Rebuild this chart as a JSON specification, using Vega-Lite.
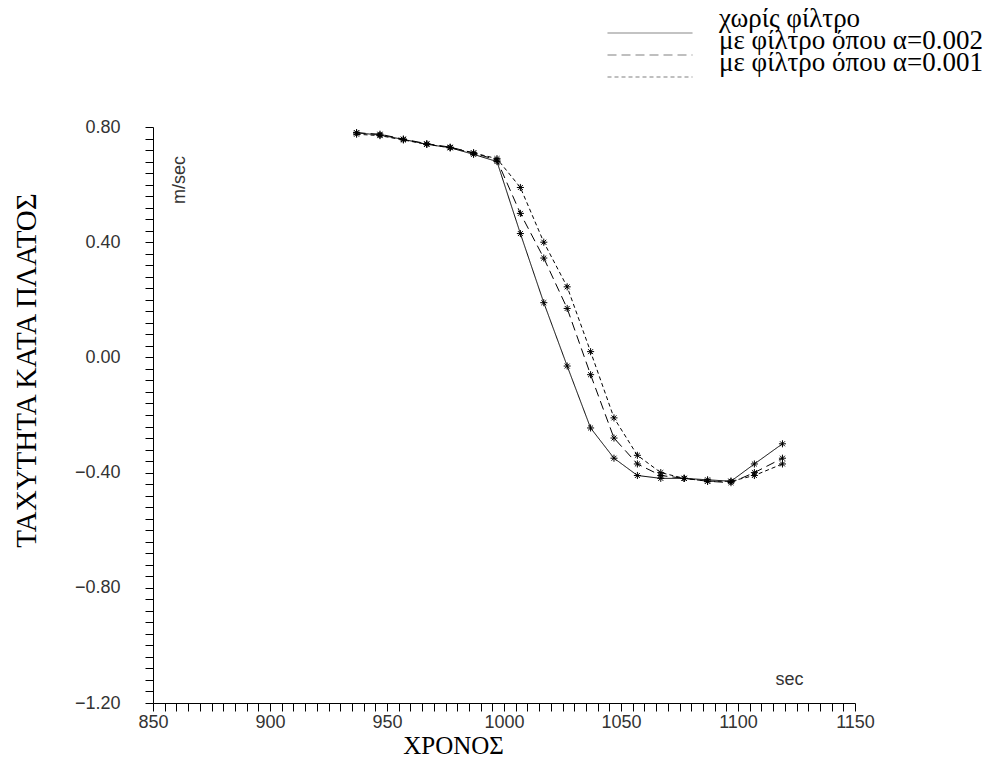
{
  "$schema": "https://vega.github.io/schema/vega-lite/v6.json",
  "width": 702,
  "height": 576,
  "autosize": {"type": "none"},
  "padding": {"left": 153, "top": 127, "right": 147, "bottom": 66},
  "background": "white",
  "config": {"view": {"stroke": null}},
  "datasets": {
    "curves": [
      {"t": 937, "v": 0.78, "s": "χωρίς φίλτρο"},
      {"t": 947, "v": 0.772, "s": "χωρίς φίλτρο"},
      {"t": 957, "v": 0.757, "s": "χωρίς φίλτρο"},
      {"t": 967, "v": 0.74, "s": "χωρίς φίλτρο"},
      {"t": 977, "v": 0.728, "s": "χωρίς φίλτρο"},
      {"t": 987, "v": 0.705, "s": "χωρίς φίλτρο"},
      {"t": 997, "v": 0.68, "s": "χωρίς φίλτρο"},
      {"t": 1007, "v": 0.43, "s": "χωρίς φίλτρο"},
      {"t": 1017, "v": 0.19, "s": "χωρίς φίλτρο"},
      {"t": 1027, "v": -0.03, "s": "χωρίς φίλτρο"},
      {"t": 1037, "v": -0.245, "s": "χωρίς φίλτρο"},
      {"t": 1047, "v": -0.35, "s": "χωρίς φίλτρο"},
      {"t": 1057, "v": -0.41, "s": "χωρίς φίλτρο"},
      {"t": 1067, "v": -0.42, "s": "χωρίς φίλτρο"},
      {"t": 1077, "v": -0.42, "s": "χωρίς φίλτρο"},
      {"t": 1087, "v": -0.425, "s": "χωρίς φίλτρο"},
      {"t": 1097, "v": -0.43, "s": "χωρίς φίλτρο"},
      {"t": 1107, "v": -0.37, "s": "χωρίς φίλτρο"},
      {"t": 1119, "v": -0.30, "s": "χωρίς φίλτρο"},
      {"t": 937, "v": 0.78, "s": "με φίλτρο όπου α=0.002"},
      {"t": 947, "v": 0.775, "s": "με φίλτρο όπου α=0.002"},
      {"t": 957, "v": 0.758, "s": "με φίλτρο όπου α=0.002"},
      {"t": 967, "v": 0.742, "s": "με φίλτρο όπου α=0.002"},
      {"t": 977, "v": 0.73, "s": "με φίλτρο όπου α=0.002"},
      {"t": 987, "v": 0.71, "s": "με φίλτρο όπου α=0.002"},
      {"t": 997, "v": 0.685, "s": "με φίλτρο όπου α=0.002"},
      {"t": 1007, "v": 0.50, "s": "με φίλτρο όπου α=0.002"},
      {"t": 1017, "v": 0.345, "s": "με φίλτρο όπου α=0.002"},
      {"t": 1027, "v": 0.17, "s": "με φίλτρο όπου α=0.002"},
      {"t": 1037, "v": -0.06, "s": "με φίλτρο όπου α=0.002"},
      {"t": 1047, "v": -0.28, "s": "με φίλτρο όπου α=0.002"},
      {"t": 1057, "v": -0.37, "s": "με φίλτρο όπου α=0.002"},
      {"t": 1067, "v": -0.41, "s": "με φίλτρο όπου α=0.002"},
      {"t": 1077, "v": -0.42, "s": "με φίλτρο όπου α=0.002"},
      {"t": 1087, "v": -0.43, "s": "με φίλτρο όπου α=0.002"},
      {"t": 1097, "v": -0.435, "s": "με φίλτρο όπου α=0.002"},
      {"t": 1107, "v": -0.40, "s": "με φίλτρο όπου α=0.002"},
      {"t": 1119, "v": -0.35, "s": "με φίλτρο όπου α=0.002"},
      {"t": 937, "v": 0.775, "s": "με φίλτρο όπου α=0.001"},
      {"t": 947, "v": 0.77, "s": "με φίλτρο όπου α=0.001"},
      {"t": 957, "v": 0.755, "s": "με φίλτρο όπου α=0.001"},
      {"t": 967, "v": 0.74, "s": "με φίλτρο όπου α=0.001"},
      {"t": 977, "v": 0.728, "s": "με φίλτρο όπου α=0.001"},
      {"t": 987, "v": 0.71, "s": "με φίλτρο όπου α=0.001"},
      {"t": 997, "v": 0.69, "s": "με φίλτρο όπου α=0.001"},
      {"t": 1007, "v": 0.59, "s": "με φίλτρο όπου α=0.001"},
      {"t": 1017, "v": 0.40, "s": "με φίλτρο όπου α=0.001"},
      {"t": 1027, "v": 0.245, "s": "με φίλτρο όπου α=0.001"},
      {"t": 1037, "v": 0.02, "s": "με φίλτρο όπου α=0.001"},
      {"t": 1047, "v": -0.21, "s": "με φίλτρο όπου α=0.001"},
      {"t": 1057, "v": -0.34, "s": "με φίλτρο όπου α=0.001"},
      {"t": 1067, "v": -0.40, "s": "με φίλτρο όπου α=0.001"},
      {"t": 1077, "v": -0.42, "s": "με φίλτρο όπου α=0.001"},
      {"t": 1087, "v": -0.43, "s": "με φίλτρο όπου α=0.001"},
      {"t": 1097, "v": -0.43, "s": "με φίλτρο όπου α=0.001"},
      {"t": 1107, "v": -0.41, "s": "με φίλτρο όπου α=0.001"},
      {"t": 1119, "v": -0.37, "s": "με φίλτρο όπου α=0.001"}
    ],
    "notes": [
      {"t": 861.5, "v": 0.616, "label": "m/sec", "angle": 270},
      {"t": 1122, "v": -1.12, "label": "sec", "angle": 0}
    ]
  },
  "encoding": {
    "x": {
      "field": "t", "type": "quantitative",
      "scale": {"domain": [850, 1150], "nice": false, "zero": false},
      "axis": {
        "values": [850,855,860,865,870,875,880,885,890,895,900,905,910,915,920,925,930,935,940,945,950,955,960,965,970,975,980,985,990,995,1000,1005,1010,1015,1020,1025,1030,1035,1040,1045,1050,1055,1060,1065,1070,1075,1080,1085,1090,1095,1100,1105,1110,1115,1120,1125,1130,1135,1140,1145,1150],
        "labelExpr": "datum.value % 50 == 0 ? datum.label : ''",
        "format": "d",
        "grid": false,
        "domainColor": "black",
        "tickColor": "black",
        "tickSize": 8,
        "labelFont": "Liberation Sans",
        "labelFontSize": 18,
        "labelColor": "#333",
        "labelPadding": 2,
        "labelOverlap": false,
        "labelFlush": false,
        "title": "ΧΡΟΝΟΣ",
        "titleFont": "Liberation Serif",
        "titleFontSize": 25,
        "titleFontWeight": "normal",
        "titleColor": "black",
        "titleX": 300,
        "titleY": 42,
        "titleAlign": "center",
        "titleBaseline": "middle"
      }
    },
    "y": {
      "field": "v", "type": "quantitative",
      "scale": {"domain": [-1.2, 0.8], "nice": false, "zero": false},
      "axis": {
        "values": [-1.2,-1.16,-1.12,-1.08,-1.04,-1.0,-0.96,-0.92,-0.88,-0.84,-0.8,-0.76,-0.72,-0.68,-0.64,-0.6,-0.56,-0.52,-0.48,-0.44,-0.4,-0.36,-0.32,-0.28,-0.24,-0.2,-0.16,-0.12,-0.08,-0.04,0,0.04,0.08,0.12,0.16,0.2,0.24,0.28,0.32,0.36,0.4,0.44,0.48,0.52,0.56,0.6,0.64,0.68,0.72,0.76,0.8],
        "labelExpr": "round(datum.value * 100) % 40 == 0 ? format(datum.value, '.2f') : ''",
        "grid": false,
        "domainColor": "black",
        "tickColor": "black",
        "tickSize": 8,
        "labelFont": "Liberation Sans",
        "labelFontSize": 18,
        "labelColor": "#333",
        "labelPadding": 25,
        "labelOverlap": false,
        "labelFlush": false,
        "title": "ΤΑΧΥΤΗΤΑ ΚΑΤΑ ΠΛΑΤΟΣ",
        "titleFont": "Liberation Serif",
        "titleFontSize": 29,
        "titleFontWeight": "normal",
        "titleColor": "black",
        "titleX": -127,
        "titleY": 243,
        "titleAngle": -90,
        "titleAlign": "center",
        "titleBaseline": "middle"
      }
    }
  },
  "layer": [
    {
      "data": {"name": "curves"},
      "mark": {"type": "line", "color": "black", "strokeWidth": 1},
      "encoding": {
        "detail": {"field": "s"},
        "strokeDash": {
          "field": "s", "type": "nominal",
          "scale": {
            "domain": ["χωρίς φίλτρο", "με φίλτρο όπου α=0.002", "με φίλτρο όπου α=0.001"],
            "range": [[1, 0], [9, 5], [4, 3]]
          },
          "legend": {
            "title": null,
            "orient": "none",
            "legendX": 454,
            "legendY": -94.5,
            "symbolType": "stroke",
            "symbolSize": 7225,
            "symbolStrokeWidth": 1,
            "symbolStrokeColor": "black",
            "labelFont": "Liberation Serif",
            "labelFontSize": 27,
            "labelColor": "black",
            "labelOffset": 26,
            "labelBaseline": "bottom",
            "clipHeight": 1,
            "rowPadding": -7,
            "labelLimit": 400
          }
        }
      }
    },
    {
      "data": {"name": "curves"},
      "mark": {
        "type": "point",
        "shape": "M-1,0L1,0M0,-1L0,1M-0.7,-0.7L0.7,0.7M-0.7,0.7L0.7,-0.7",
        "filled": false,
        "stroke": "black",
        "strokeWidth": 1,
        "size": 50,
        "opacity": 1
      },
      "encoding": {"detail": {"field": "s"}}
    },
    {
      "data": {"name": "notes"},
      "mark": {"type": "text", "font": "Liberation Sans", "fontSize": 18, "color": "#333", "align": "center", "baseline": "middle"},
      "encoding": {
        "text": {"field": "label"},
        "angle": {"field": "angle", "type": "quantitative", "scale": null}
      }
    }
  ]
}
